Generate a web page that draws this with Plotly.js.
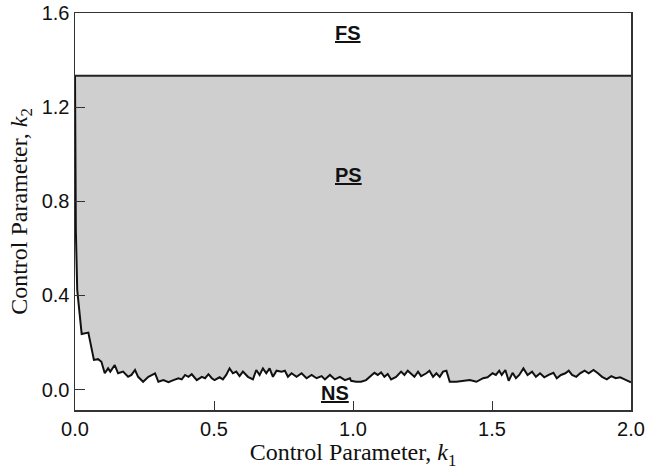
<!DOCTYPE html>
<html>
<head>
<meta charset="utf-8">
<script src="https://cdn.plot.ly/plotly-3.0.1.min.js"></script>
<style>html,body{margin:0;padding:0;background:#fff;}#chart{width:646px;height:471px;}</style>
</head>
<body>
<div id="chart"></div>
<script>
// Lower boundary (NS / PS transition)
const k1Lower = [0, 0.003, 0.008, 0.017, 0.024, 0.048, 0.053, 0.065, 0.068, 0.083, 0.095, 0.107, 0.119, 0.127, 0.143, 0.155, 0.173, 0.191, 0.203, 0.216, 0.227, 0.245, 0.264, 0.288, 0.300, 0.318, 0.336, 0.354, 0.372, 0.384, 0.396, 0.408, 0.420, 0.438, 0.456, 0.468, 0.480, 0.492, 0.502, 0.520, 0.532, 0.544, 0.556, 0.568, 0.580, 0.592, 0.604, 0.622, 0.640, 0.652, 0.664, 0.676, 0.688, 0.700, 0.712, 0.725, 0.743, 0.755, 0.766, 0.779, 0.797, 0.815, 0.833, 0.851, 0.869, 0.887, 0.899, 0.917, 0.935, 0.953, 0.971, 0.989, 0.993, 1.011, 1.029, 1.047, 1.065, 1.077, 1.089, 1.101, 1.113, 1.125, 1.137, 1.155, 1.173, 1.185, 1.197, 1.209, 1.221, 1.234, 1.245, 1.264, 1.275, 1.288, 1.300, 1.312, 1.324, 1.336, 1.348, 1.372, 1.396, 1.420, 1.444, 1.468, 1.484, 1.502, 1.514, 1.526, 1.535, 1.548, 1.560, 1.574, 1.586, 1.598, 1.613, 1.628, 1.644, 1.658, 1.673, 1.688, 1.704, 1.721, 1.733, 1.748, 1.764, 1.776, 1.788, 1.803, 1.817, 1.833, 1.848, 1.865, 1.881, 1.896, 1.913, 1.929, 1.945, 1.961, 1.977, 1.995, 2.0];
const k2Lower = [1.333, 0.679, 0.423, 0.304, 0.236, 0.242, 0.211, 0.133, 0.126, 0.129, 0.118, 0.069, 0.090, 0.076, 0.104, 0.069, 0.076, 0.054, 0.062, 0.083, 0.054, 0.033, 0.054, 0.069, 0.033, 0.040, 0.031, 0.040, 0.048, 0.043, 0.062, 0.054, 0.065, 0.040, 0.054, 0.048, 0.065, 0.048, 0.040, 0.052, 0.043, 0.062, 0.090, 0.069, 0.076, 0.057, 0.076, 0.054, 0.043, 0.083, 0.062, 0.090, 0.069, 0.090, 0.054, 0.080, 0.076, 0.080, 0.054, 0.069, 0.054, 0.069, 0.048, 0.062, 0.048, 0.057, 0.043, 0.062, 0.043, 0.054, 0.040, 0.048, 0.037, 0.033, 0.033, 0.040, 0.057, 0.071, 0.062, 0.073, 0.054, 0.066, 0.043, 0.054, 0.076, 0.062, 0.080, 0.069, 0.054, 0.076, 0.057, 0.069, 0.080, 0.054, 0.069, 0.054, 0.076, 0.080, 0.033, 0.033, 0.037, 0.040, 0.033, 0.048, 0.052, 0.069, 0.062, 0.080, 0.062, 0.083, 0.037, 0.071, 0.048, 0.062, 0.090, 0.062, 0.076, 0.054, 0.069, 0.052, 0.062, 0.071, 0.048, 0.062, 0.069, 0.080, 0.062, 0.054, 0.069, 0.080, 0.069, 0.083, 0.069, 0.054, 0.043, 0.057, 0.048, 0.052, 0.043, 0.033, 0.031];
// Upper boundary (PS / FS transition)
const k1Upper = [0, 2];
const k2Upper = [1.333, 1.333];
// Region labels
const regionNames = ['FS', 'PS', 'NS'];
const regionK1 = [0.982, 0.982, 0.935];
const regionK2 = [1.517, 0.913, -0.015];
const xTicks = [0, 0.5, 1.0, 1.5, 2.0];
const yTicks = [0, 0.4, 0.8, 1.2, 1.6];

const traces = [
  {x: k1Lower, y: k2Lower, type: 'scatter', mode: 'lines',
   line: {color: '#111', width: 2}, hoverinfo: 'skip', showlegend: false},
  {x: k1Upper, y: k2Upper, type: 'scatter', mode: 'lines',
   line: {color: '#222', width: 2}, fill: 'tonexty', fillcolor: '#cecfce',
   hoverinfo: 'skip', showlegend: false}
];

const annotations = regionNames.map((t, i) => ({
  x: regionK1[i], y: regionK2[i], xref: 'x', yref: 'y',
  text: '<b><u>' + t + '</u></b>', showarrow: false,
  font: {family: 'Liberation Sans, Arial, sans-serif', size: 20, color: '#111'}
}));

const layout = {
  width: 646, height: 471,
  margin: {l: 75, r: 15, t: 13, b: 61},
  paper_bgcolor: '#fff', plot_bgcolor: '#fff',
  font: {family: 'Liberation Sans, Arial, sans-serif', size: 20, color: '#111'},
  xaxis: {
    range: [0, 2], tickvals: xTicks, tickformat: '.1f',
    ticks: 'inside', ticklen: 9, tickwidth: 1, tickcolor: '#333',
    showline: true, linecolor: '#333', linewidth: 1.5, mirror: true,
    showgrid: false, zeroline: false,
    tickfont: {family: 'Liberation Sans, Arial, sans-serif', size: 20, color: '#111'},
    title: {text: 'Control Parameter, <i>k</i><sub>1</sub>', standoff: 2,
            font: {family: 'Liberation Serif, Times New Roman, serif', size: 24, color: '#111'}}
  },
  yaxis: {
    range: [-0.087, 1.6], tickvals: yTicks, tickformat: '.1f',
    ticks: 'inside', ticklen: 10, tickwidth: 1, tickcolor: '#333',
    showline: true, linecolor: '#333', linewidth: 1.5, mirror: true,
    showgrid: false, zeroline: false,
    tickfont: {family: 'Liberation Sans, Arial, sans-serif', size: 20, color: '#111'},
    title: {text: 'Control Parameter, <i>k</i><sub>2</sub>', standoff: 7,
            font: {family: 'Liberation Serif, Times New Roman, serif', size: 24, color: '#111'}}
  },
  annotations: annotations
};

Plotly.newPlot('chart', traces, layout, {staticPlot: true, displayModeBar: false});
</script>
</body>
</html>
